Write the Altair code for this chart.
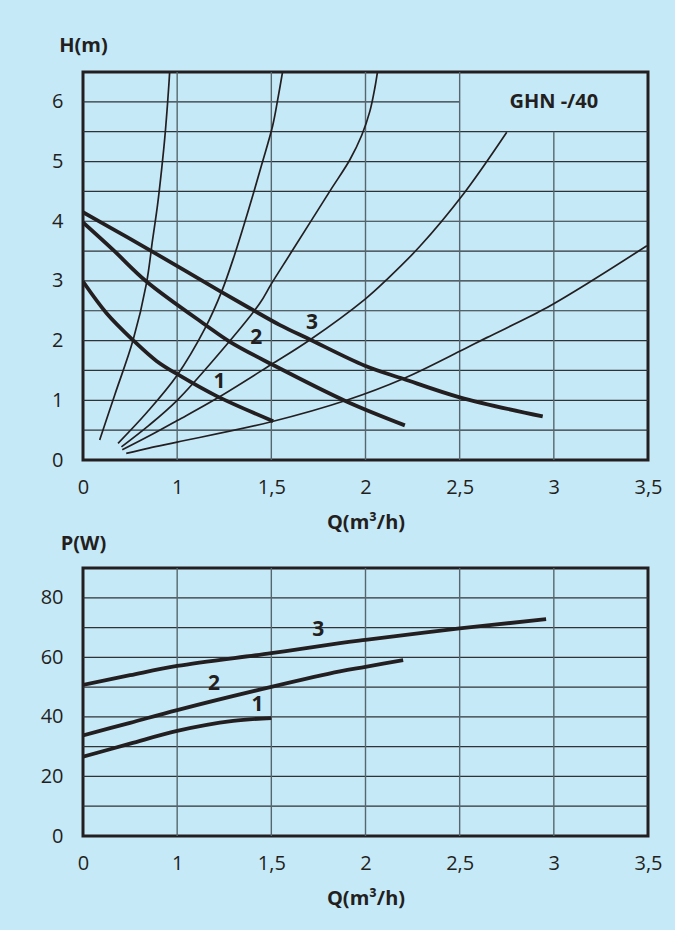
import altair as alt
import pandas as pd

# ---- axis ticks (flow axis: first step 0..1, then steps of 0.5) ----
Q_TICKS = [0, 1, 1.5, 2, 2.5, 3, 3.5]
H_TICKS = [0, 1, 2, 3, 4, 5, 6]
P_TICKS = [0, 20, 40, 60, 80]

# ---- grid lines ----
grid_h_top = [0.5, 1, 1.5, 2, 2.5, 3, 3.5, 4, 4.5, 5, 5.5, 6]
grid_h_top_end = [3.5, 3.5, 3.5, 3.5, 3.5, 3.5, 3.5, 3.5, 3.5, 3.5, 3.5, 2.5]
grid_q = [1, 1.5, 2, 2.5, 3]
grid_q_top_end = [6.5, 6.5, 6.5, 6.5, 5.5]
grid_p = [10, 20, 30, 40, 50, 60, 70, 80]

# ---- pump head curves H(Q), speeds 1..3 ----
head1_q = [0, 0.25, 0.53, 0.78, 1.01, 1.21, 1.51]
head1_h = [2.99, 2.46, 2.01, 1.66, 1.42, 1.07, 0.65]
head2_q = [0, 0.32, 0.674, 1.156, 1.28, 1.51, 1.899, 2.209]
head2_h = [3.98, 3.52, 2.99, 2.25, 1.98, 1.59, 0.98, 0.58]
head3_q = [0, 0.36, 0.727, 1.227, 1.404, 1.546, 1.704, 1.997, 2.2, 2.5, 2.941]
head3_h = [4.15, 3.83, 3.5, 2.83, 2.51, 2.26, 2.02, 1.58, 1.36, 1.05, 0.73]

# ---- system resistance curves ----
sys_a_q = [0.177, 0.337, 0.532, 0.674, 0.739, 0.792, 0.835, 0.867, 0.893, 0.912, 0.92]
sys_a_h = [0.335, 1.09, 2.01, 2.96, 3.69, 4.28, 4.87, 5.37, 5.87, 6.29, 6.49]
sys_b_q = [0.372, 0.68, 1.0, 1.147, 1.236, 1.305, 1.375, 1.449, 1.507, 1.534, 1.559]
sys_b_h = [0.28, 0.8, 1.42, 2.2, 2.82, 3.44, 4.15, 4.95, 5.6, 6.04, 6.49]
sys_c_q = [0.408, 0.7, 1.0, 1.2, 1.438, 1.5, 1.6, 1.81, 1.917, 1.98, 2.023, 2.05, 2.063]
sys_c_h = [0.22, 0.58, 1.0, 1.7, 2.62, 2.95, 3.45, 4.5, 5.03, 5.44, 5.84, 6.24, 6.49]
sys_d_q = [0.417, 0.7, 1.0, 1.209, 1.5, 1.704, 2.0, 2.112, 2.289, 2.521, 2.75]
sys_d_h = [0.17, 0.4, 0.66, 1.03, 1.6, 2.01, 2.7, 3.02, 3.58, 4.46, 5.49]
sys_e_q = [0.459, 0.7, 1.0, 1.5, 1.899, 2.2, 2.5, 2.644, 2.944, 3.21, 3.494]
sys_e_h = [0.11, 0.2, 0.3, 0.64, 1.0, 1.36, 1.82, 2.05, 2.52, 3.02, 3.59]

# ---- power curves P(Q), speeds 1..3 ----
power1_q = [0, 0.5, 1.0, 1.297, 1.5]
power1_p = [26.6, 31.0, 35.3, 38.65, 39.6]
power2_q = [0, 0.5, 1.0, 1.5, 1.864, 2.0, 2.2]
power2_p = [33.8, 38.0, 42.3, 50.1, 55.3, 56.8, 59.05]
power3_q = [0, 0.5, 1.0, 1.5, 1.864, 2.0, 2.5, 2.959]
power3_p = [50.75, 54.0, 57.1, 61.4, 64.8, 65.9, 69.7, 72.8]

# ---- curve labels ----
speed_names = ["1", "2", "3"]
head_label_q = [1.225, 1.42, 1.716]
head_label_h = [1.31, 2.04, 2.29]
power_label_q = [1.426, 1.195, 1.749]
power_label_p = [44.0, 51.0, 69.1]
model_name = "GHN -/40"

# ---- styling ----
BG = "#c6e9f8"
INK = "#231f20"
FONT = "Open Sans"
W = 565
HT = 388
HB = 268

QSCALE = alt.Scale(domain=[0, 1, 3.5], range=[0, W / 6, W], nice=False, zero=False)
HSCALE = alt.Scale(domain=[0, 6.5], nice=False)
PSCALE = alt.Scale(domain=[0, 90], nice=False)
COMMA = "replace(format(datum.value, '~g'), '.', ',')"


def x_axis():
    return alt.Axis(values=Q_TICKS, title="Q(m³/h)", labelExpr=COMMA, labelFlush=False,
                    labelPadding=17, titleY=62, titleBaseline="middle")


def y_axis(ticks, title, ty):
    return alt.Axis(values=ticks, title=title, titleAngle=0, titleX=0, titleY=ty, labelFlush=False,
                    titleAlign="center", titleBaseline="middle", labelPadding=20)


def curves(names, qs, vs):
    rows = []
    for name, q, v in zip(names, qs, vs):
        for i, (a, b) in enumerate(zip(q, v)):
            rows.append({"q": a, "v": b, "curve": name, "i": i})
    return pd.DataFrame(rows)


def panel(yscale, yaxis, h_grid, h_grid_end, v_grid_end, thin_df, thick_df, labels_df, height, extra=None):
    X = lambda f: alt.X(f, type="quantitative", scale=QSCALE, axis=x_axis())
    Y = lambda f: alt.Y(f, type="quantitative", scale=yscale, axis=yaxis)

    hgrid = alt.Chart(pd.DataFrame({"v": h_grid, "q0": [0] * len(h_grid), "q1": h_grid_end})).mark_rule(
        color="#2e3336", strokeWidth=1.2).encode(x=X("q0"), x2="q1", y=Y("v"))
    vgrid = alt.Chart(pd.DataFrame({"q": grid_q, "v0": [0] * len(grid_q), "v1": v_grid_end})).mark_rule(
        color="#56666d", strokeWidth=1.4).encode(x=X("q"), y=Y("v0"), y2="v1")
    layers = [hgrid, vgrid]
    if thin_df is not None:
        layers.append(alt.Chart(thin_df).mark_line(color=INK, strokeWidth=1.7, interpolate="catmull-rom", clip=True)
                      .encode(x=X("q"), y=Y("v"), detail="curve:N", order="i:Q"))
    layers.append(alt.Chart(thick_df).mark_line(color=INK, strokeWidth=3.8, interpolate="catmull-rom",
                                                strokeCap="butt", clip=True)
                  .encode(x=X("q"), y=Y("v"), detail="curve:N", order="i:Q"))
    layers.append(alt.Chart(labels_df).mark_text(font=FONT, fontSize=21, fontWeight="bold", color=INK)
                  .encode(x=X("q"), y=Y("v"), text="t:N"))
    if extra is not None:
        layers.append(alt.Chart(extra).mark_text(font=FONT, fontSize=20, fontWeight="bold", color=INK)
                      .encode(x=X("q"), y=Y("v"), text="t:N"))
    return alt.layer(*layers).properties(width=W, height=height)


thin_top = curves(["A", "B", "C", "D", "E"],
                  [sys_a_q, sys_b_q, sys_c_q, sys_d_q, sys_e_q],
                  [sys_a_h, sys_b_h, sys_c_h, sys_d_h, sys_e_h])
thick_top = curves(speed_names, [head1_q, head2_q, head3_q], [head1_h, head2_h, head3_h])
thick_bot = curves(speed_names, [power1_q, power2_q, power3_q], [power1_p, power2_p, power3_p])

top = panel(HSCALE, y_axis(H_TICKS, "H(m)", -27), grid_h_top, grid_h_top_end, grid_q_top_end,
            thin_top, thick_top,
            pd.DataFrame({"q": head_label_q, "v": head_label_h, "t": speed_names}), HT,
            extra=pd.DataFrame({"q": [3.0], "v": [6.0], "t": [model_name]}))
bottom = panel(PSCALE, y_axis(P_TICKS, "P(W)", -25), grid_p, [3.5] * len(grid_p), [90] * len(grid_q),
               None, thick_bot,
               pd.DataFrame({"q": power_label_q, "v": power_label_p, "t": speed_names}), HB)

chart = alt.vconcat(top, bottom, spacing=108, bounds="flush").configure(
    background=BG,
    padding={"left": 38, "top": 33, "right": 11, "bottom": 20},
).configure_view(stroke=INK, strokeWidth=3).configure_axis(
    domain=False, ticks=False, grid=False,
    labelFont=FONT, labelFontSize=20, labelColor=INK,
    titleFont=FONT, titleFontSize=20, titleFontWeight="bold", titleColor=INK,
)

chart.save("out.html", embed_options={"renderer": "svg", "actions": False})
